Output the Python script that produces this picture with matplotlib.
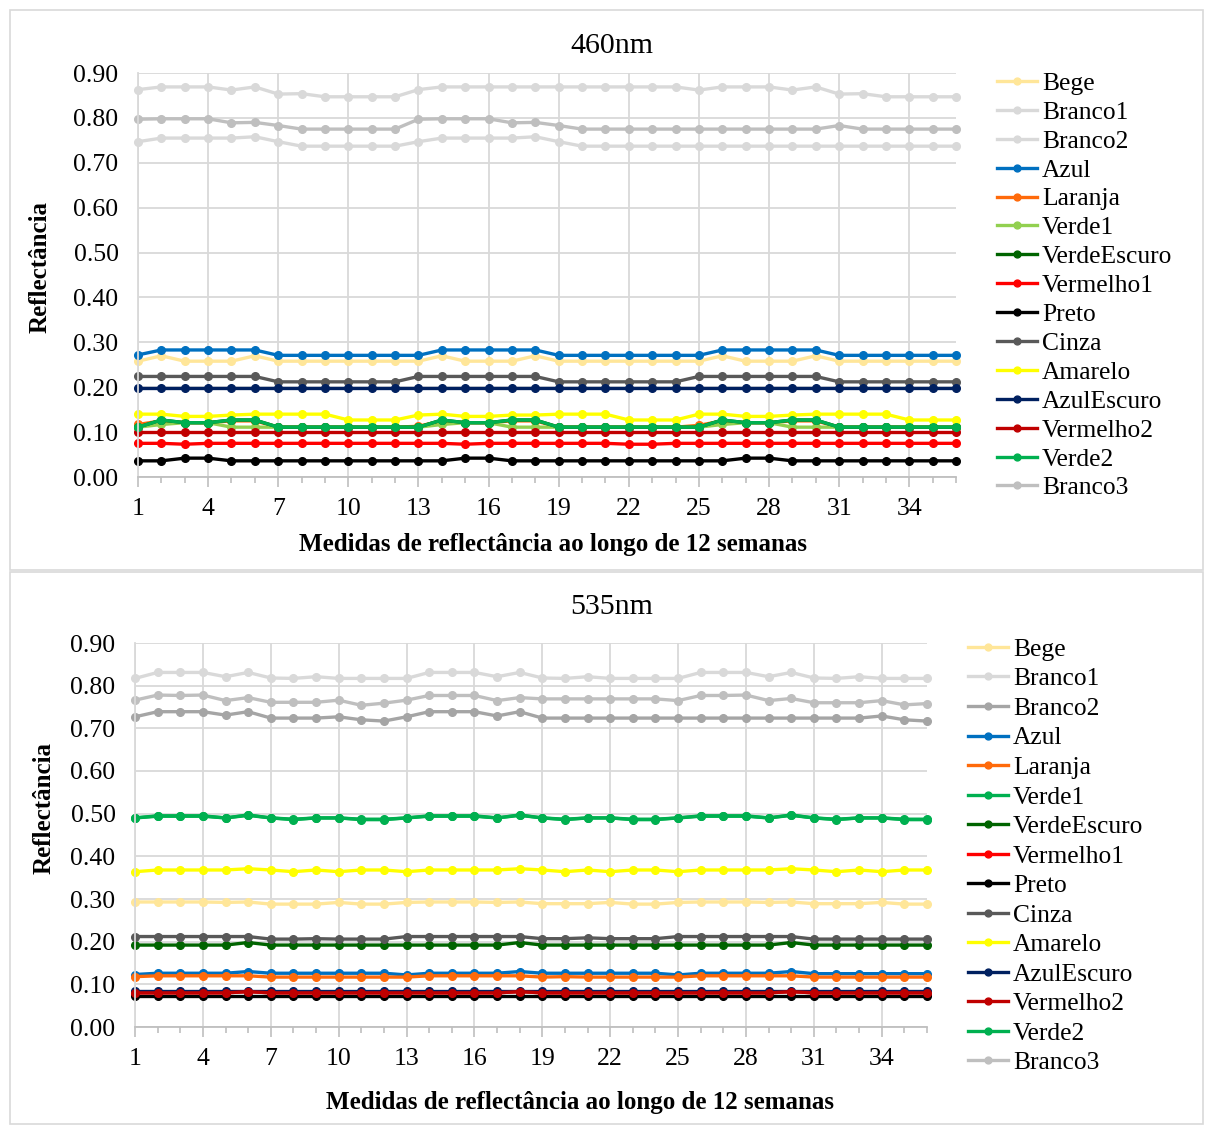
import matplotlib
matplotlib.use("Agg")
import matplotlib.pyplot as plt
from matplotlib.patches import Rectangle
from matplotlib.ticker import MultipleLocator, FixedLocator

plt.rcParams['font.family'] = ['Liberation Serif', 'DejaVu Serif']

# medidas 1..36 (12 semanas x 3)
medidas = list(range(1, 37))
xticks = list(range(1, 37, 3))

nomes = ["Bege", "Branco1", "Branco2", "Azul", "Laranja", "Verde1", "VerdeEscuro",
         "Vermelho1", "Preto", "Cinza", "Amarelo", "AzulEscuro", "Vermelho2",
         "Verde2", "Branco3"]

# ---- 460nm ----
bege_460 = [0.258, 0.270, 0.258, 0.258, 0.258, 0.270, 0.258, 0.258, 0.258, 0.258, 0.258, 0.258,
            0.258, 0.270, 0.258, 0.258, 0.258, 0.270, 0.258, 0.258, 0.258, 0.258, 0.258, 0.258,
            0.258, 0.270, 0.258, 0.258, 0.258, 0.270, 0.258, 0.258, 0.258, 0.258, 0.258, 0.258]
branco1_460 = [0.863, 0.869, 0.869, 0.869, 0.862, 0.869, 0.853, 0.854, 0.847, 0.847, 0.847, 0.847,
               0.863, 0.869, 0.869, 0.869, 0.869, 0.869, 0.869, 0.869, 0.869, 0.869, 0.869, 0.869,
               0.862, 0.869, 0.869, 0.869, 0.862, 0.869, 0.853, 0.854, 0.847, 0.847, 0.847, 0.847]
branco2_460 = [0.747, 0.755, 0.755, 0.755, 0.755, 0.758, 0.747, 0.737, 0.737, 0.737, 0.737, 0.737,
               0.747, 0.755, 0.755, 0.755, 0.755, 0.758, 0.747, 0.737, 0.737, 0.737, 0.737, 0.737,
               0.737, 0.737, 0.737, 0.737, 0.737, 0.737, 0.737, 0.737, 0.737, 0.737, 0.737, 0.737]
azul_460 = [0.272, 0.283, 0.283, 0.283, 0.283, 0.283, 0.271, 0.271, 0.271, 0.271, 0.271, 0.271,
            0.271, 0.283, 0.283, 0.283, 0.283, 0.283, 0.271, 0.271, 0.271, 0.271, 0.271, 0.271,
            0.271, 0.283, 0.283, 0.283, 0.283, 0.283, 0.271, 0.271, 0.271, 0.271, 0.271, 0.271]
laranja_460 = [0.117, 0.125, 0.121, 0.121, 0.125, 0.125, 0.111, 0.111, 0.111, 0.111, 0.111, 0.111,
               0.113, 0.125, 0.121, 0.121, 0.125, 0.125, 0.111, 0.111, 0.111, 0.111, 0.111, 0.111,
               0.115, 0.125, 0.121, 0.121, 0.125, 0.125, 0.111, 0.111, 0.111, 0.111, 0.111, 0.111]
verde1_460 = [0.111, 0.117, 0.121, 0.121, 0.111, 0.111, 0.111, 0.111, 0.111, 0.111, 0.111, 0.111,
              0.111, 0.117, 0.121, 0.121, 0.111, 0.111, 0.111, 0.111, 0.111, 0.111, 0.111, 0.111,
              0.111, 0.117, 0.121, 0.121, 0.111, 0.111, 0.111, 0.111, 0.111, 0.111, 0.111, 0.111]
verdeescuro_460 = [0.111, 0.127, 0.121, 0.121, 0.127, 0.127, 0.111, 0.111, 0.111, 0.111, 0.111, 0.111,
                   0.111, 0.127, 0.121, 0.121, 0.127, 0.127, 0.111, 0.111, 0.111, 0.111, 0.111, 0.111,
                   0.111, 0.127, 0.121, 0.121, 0.127, 0.127, 0.111, 0.111, 0.111, 0.111, 0.111, 0.111]
vermelho1_460 = [0.075, 0.075, 0.073, 0.075, 0.075, 0.075, 0.075, 0.075, 0.075, 0.075, 0.075, 0.075,
                 0.075, 0.075, 0.073, 0.075, 0.075, 0.075, 0.075, 0.075, 0.075, 0.073, 0.073, 0.075,
                 0.075, 0.075, 0.075, 0.075, 0.075, 0.075, 0.075, 0.075, 0.075, 0.075, 0.075, 0.075]
preto_460 = [0.036, 0.036, 0.042, 0.042, 0.036, 0.036, 0.036, 0.036, 0.036, 0.036, 0.036, 0.036,
             0.036, 0.036, 0.042, 0.042, 0.036, 0.036, 0.036, 0.036, 0.036, 0.036, 0.036, 0.036,
             0.036, 0.036, 0.042, 0.042, 0.036, 0.036, 0.036, 0.036, 0.036, 0.036, 0.036, 0.036]
cinza_460 = [0.224, 0.224, 0.224, 0.224, 0.224, 0.224, 0.212, 0.212, 0.212, 0.212, 0.212, 0.212,
             0.224, 0.224, 0.224, 0.224, 0.224, 0.224, 0.212, 0.212, 0.212, 0.212, 0.212, 0.212,
             0.224, 0.224, 0.224, 0.224, 0.224, 0.224, 0.212, 0.212, 0.212, 0.212, 0.212, 0.212]
amarelo_460 = [0.140, 0.140, 0.135, 0.135, 0.138, 0.140, 0.140, 0.140, 0.140, 0.127, 0.127, 0.127,
               0.138, 0.140, 0.135, 0.135, 0.138, 0.138, 0.140, 0.140, 0.140, 0.127, 0.127, 0.127,
               0.140, 0.140, 0.135, 0.135, 0.138, 0.140, 0.140, 0.140, 0.140, 0.127, 0.127, 0.127]
azulescuro_460 = [0.198] * 36
vermelho2_460 = [0.100] * 36
verde2_460 = [0.111, 0.127, 0.121, 0.121, 0.127, 0.127, 0.111, 0.111, 0.111, 0.111, 0.111, 0.111,
              0.111, 0.127, 0.121, 0.121, 0.127, 0.127, 0.111, 0.111, 0.111, 0.111, 0.111, 0.111,
              0.111, 0.127, 0.121, 0.121, 0.127, 0.127, 0.111, 0.111, 0.111, 0.111, 0.111, 0.111]
branco3_460 = [0.797, 0.798, 0.798, 0.798, 0.789, 0.790, 0.783, 0.775, 0.775, 0.775, 0.775, 0.775,
               0.797, 0.798, 0.798, 0.798, 0.789, 0.790, 0.783, 0.775, 0.775, 0.775, 0.775, 0.775,
               0.775, 0.775, 0.775, 0.775, 0.775, 0.775, 0.783, 0.775, 0.775, 0.775, 0.775, 0.775]

# ---- 535nm ----
bege_535 = [0.293, 0.293, 0.293, 0.293, 0.292, 0.293, 0.288, 0.288, 0.288, 0.292, 0.288, 0.288,
            0.292, 0.293, 0.293, 0.293, 0.292, 0.293, 0.289, 0.289, 0.289, 0.292, 0.288, 0.288,
            0.292, 0.293, 0.293, 0.293, 0.292, 0.293, 0.289, 0.289, 0.289, 0.292, 0.288, 0.288]
branco1_535 = [0.817, 0.831, 0.831, 0.831, 0.821, 0.831, 0.818, 0.817, 0.821, 0.817, 0.817, 0.817,
               0.817, 0.831, 0.831, 0.831, 0.821, 0.831, 0.818, 0.817, 0.821, 0.817, 0.817, 0.817,
               0.817, 0.831, 0.831, 0.831, 0.821, 0.831, 0.818, 0.817, 0.821, 0.817, 0.817, 0.817]
branco2_535 = [0.727, 0.739, 0.739, 0.739, 0.731, 0.739, 0.724, 0.724, 0.724, 0.727, 0.720, 0.717,
               0.727, 0.739, 0.739, 0.739, 0.729, 0.739, 0.724, 0.724, 0.724, 0.724, 0.724, 0.724,
               0.724, 0.724, 0.724, 0.724, 0.724, 0.724, 0.724, 0.724, 0.724, 0.729, 0.720, 0.717]
azul_535 = [0.123, 0.126, 0.126, 0.126, 0.126, 0.130, 0.126, 0.126, 0.126, 0.126, 0.126, 0.126,
            0.122, 0.126, 0.126, 0.126, 0.126, 0.130, 0.126, 0.126, 0.126, 0.126, 0.126, 0.126,
            0.122, 0.126, 0.126, 0.126, 0.126, 0.130, 0.125, 0.125, 0.125, 0.125, 0.125, 0.125]
laranja_535 = [0.118, 0.120, 0.120, 0.120, 0.120, 0.120, 0.117, 0.117, 0.117, 0.117, 0.117, 0.117,
               0.117, 0.120, 0.120, 0.120, 0.120, 0.120, 0.117, 0.118, 0.117, 0.117, 0.117, 0.117,
               0.117, 0.120, 0.120, 0.120, 0.120, 0.120, 0.117, 0.117, 0.117, 0.117, 0.117, 0.117]
verde1_535 = [0.490, 0.494, 0.494, 0.494, 0.490, 0.496, 0.490, 0.486, 0.490, 0.490, 0.486, 0.486,
              0.490, 0.494, 0.494, 0.494, 0.490, 0.496, 0.490, 0.486, 0.490, 0.490, 0.486, 0.486,
              0.490, 0.494, 0.494, 0.494, 0.490, 0.496, 0.490, 0.486, 0.490, 0.490, 0.486, 0.486]
verdeescuro_535 = [0.192, 0.192, 0.192, 0.192, 0.192, 0.198, 0.192, 0.192, 0.192, 0.192, 0.192, 0.192,
                   0.192, 0.192, 0.192, 0.192, 0.192, 0.198, 0.192, 0.192, 0.192, 0.192, 0.192, 0.192,
                   0.192, 0.192, 0.192, 0.192, 0.192, 0.198, 0.192, 0.192, 0.192, 0.192, 0.192, 0.192]
vermelho1_535 = [0.080, 0.080, 0.080, 0.080, 0.080, 0.083, 0.080, 0.080, 0.080, 0.080, 0.080, 0.080,
                 0.080, 0.080, 0.080, 0.080, 0.080, 0.083, 0.080, 0.080, 0.080, 0.080, 0.080, 0.080,
                 0.080, 0.080, 0.080, 0.080, 0.080, 0.083, 0.080, 0.080, 0.080, 0.080, 0.080, 0.080]
preto_535 = [0.073] * 36
cinza_535 = [0.212, 0.212, 0.212, 0.212, 0.212, 0.212, 0.206, 0.206, 0.207, 0.206, 0.206, 0.206,
             0.212, 0.212, 0.212, 0.212, 0.212, 0.212, 0.207, 0.207, 0.209, 0.207, 0.207, 0.207,
             0.212, 0.212, 0.212, 0.212, 0.212, 0.212, 0.206, 0.206, 0.206, 0.206, 0.206, 0.206]
amarelo_535 = [0.364, 0.368, 0.368, 0.368, 0.368, 0.371, 0.368, 0.364, 0.368, 0.364, 0.368, 0.368,
               0.364, 0.368, 0.368, 0.368, 0.368, 0.371, 0.368, 0.364, 0.368, 0.364, 0.368, 0.368,
               0.364, 0.368, 0.368, 0.368, 0.368, 0.371, 0.368, 0.364, 0.368, 0.364, 0.368, 0.368]
azulescuro_535 = [0.085] * 36
vermelho2_535 = vermelho1_535
verde2_535 = [0.490, 0.495, 0.495, 0.495, 0.490, 0.497, 0.490, 0.487, 0.490, 0.490, 0.487, 0.487,
              0.490, 0.495, 0.495, 0.495, 0.490, 0.497, 0.490, 0.487, 0.490, 0.490, 0.487, 0.487,
              0.490, 0.495, 0.495, 0.495, 0.490, 0.497, 0.490, 0.487, 0.490, 0.490, 0.487, 0.487]
branco3_535 = [0.766, 0.778, 0.777, 0.778, 0.765, 0.772, 0.761, 0.761, 0.761, 0.766, 0.754, 0.759,
               0.766, 0.777, 0.777, 0.777, 0.765, 0.772, 0.769, 0.769, 0.769, 0.769, 0.769, 0.769,
               0.765, 0.777, 0.777, 0.778, 0.765, 0.770, 0.760, 0.760, 0.760, 0.765, 0.755, 0.758]

series_460 = [bege_460, branco1_460, branco2_460, azul_460, laranja_460, verde1_460,
              verdeescuro_460, vermelho1_460, preto_460, cinza_460, amarelo_460,
              azulescuro_460, vermelho2_460, verde2_460, branco3_460]
series_535 = [bege_535, branco1_535, branco2_535, azul_535, laranja_535, verde1_535,
              verdeescuro_535, vermelho1_535, preto_535, cinza_535, amarelo_535,
              azulescuro_535, vermelho2_535, verde2_535, branco3_535]

cores_460 = ["#FFE699", "#D9D9D9", "#D9D9D9", "#0070C0", "#FF6A0A", "#92D050", "#006400",
             "#FF0000", "#000000", "#595959", "#FFFF00", "#002060", "#C00000", "#00B050", "#BFBFBF"]
cores_535 = ["#FFE699", "#D9D9D9", "#A5A5A5", "#0070C0", "#FF6A0A", "#00B050", "#006400",
             "#FF0000", "#000000", "#595959", "#FFFF00", "#002060", "#C00000", "#00B050", "#BFBFBF"]

W, H = 1205, 1126
fig = plt.figure(figsize=(W / 100, H / 100), dpi=100)

# molduras dos dois gráficos
for (x0, y0, x1, y1) in [(10, 10, 1203, 570), (10, 572, 1203, 1124)]:
    fig.add_artist(Rectangle((x0 / W, 1 - y1 / H), (x1 - x0) / W, (y1 - y0) / H,
                             transform=fig.transFigure, fill=False,
                             edgecolor="#D9D9D9", linewidth=1.2))


def fx(px):
    return px / W


def fy(py):
    return 1 - py / H


def painel(box, series, cores, titulo, titulo_xy, leg_xy, leg_step, ylab_xy, xlab_xy):
    left, top, right, bottom = box
    ax = fig.add_axes([fx(left), fy(bottom), (right - left) / W, (bottom - top) / H])
    for nome, ys, c in zip(nomes, series, cores):
        ax.plot(medidas, ys, color=c, lw=2.4, marker="o", ms=5.5, mec=c, label=nome,
                solid_joinstyle="round", clip_on=False)
    ax.set_xlim(1, 36)
    ax.set_ylim(0, 0.9)
    ax.yaxis.set_major_locator(MultipleLocator(0.1))
    ax.yaxis.set_major_formatter(plt.FuncFormatter(lambda v, p: f"{v:.2f}"))
    ax.xaxis.set_major_locator(FixedLocator(xticks))
    ax.xaxis.set_minor_locator(MultipleLocator(1))
    ax.grid(True, which="major", color="#D9D9D9", lw=1.3)
    ax.set_axisbelow(True)
    for s in ["top", "right"]:
        ax.spines[s].set_visible(False)
    ax.spines["left"].set_color("#D9D9D9")
    ax.spines["left"].set_linewidth(1.3)
    ax.spines["bottom"].set_color("#BFBFBF")
    ax.spines["bottom"].set_linewidth(1.3)
    ax.tick_params(axis="y", length=0, pad=14, labelsize=18.5)
    ax.tick_params(axis="x", which="major", length=7, width=1.2, color="#BFBFBF",
                   pad=8, labelsize=18.5)
    ax.tick_params(axis="x", which="minor", length=4, width=1.2, color="#BFBFBF")

    fig.text(fx(titulo_xy[0]), fy(titulo_xy[1]), titulo, ha="center", va="center",
             fontsize=21.5)
    fig.text(fx(ylab_xy[0]), fy(ylab_xy[1]), "Reflectância", rotation=90,
             ha="center", va="center", fontsize=18, fontweight="bold")
    fig.text(fx(xlab_xy[0]), fy(xlab_xy[1]),
             "Medidas de reflectância ao longo de 12 semanas", ha="center",
             va="center", fontsize=18, fontweight="bold")

    ax.legend(loc="upper left", bbox_to_anchor=(fx(leg_xy[0]), fy(leg_xy[1])),
              bbox_transform=fig.transFigure, frameon=False, fontsize=18.4,
              borderpad=0, borderaxespad=0, handlelength=1.56, handletextpad=0.2,
              labelspacing=leg_step, markerscale=0.9)
    return ax


painel((138, 73, 956, 477), series_460, cores_460, "460nm", (612, 46),
       (997, 72), 0.235, (40, 267), (553, 544))
painel((135, 643, 927, 1027), series_535, cores_535, "535nm", (612, 607),
       (968, 638), 0.26, (44, 808), (580, 1102))

fig.savefig("out.png", dpi=100)
